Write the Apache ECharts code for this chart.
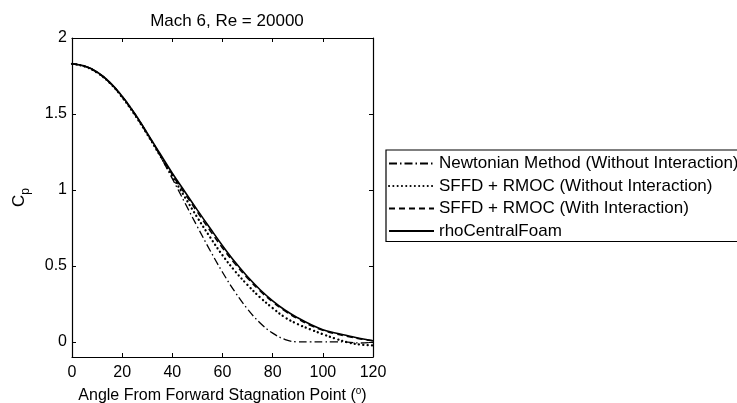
<!DOCTYPE html>
<html>
<head>
<meta charset="utf-8">
<script src="https://cdn.jsdelivr.net/npm/echarts@6/dist/echarts.min.js"></script>
<style>
  html, body { margin: 0; padding: 0; background: #fff; }
  #chart { width: 737px; height: 403px; }
</style>
</head>
<body>
<div id="chart"></div>
<script>
var angles = [0, 5, 10, 15, 20, 25, 30, 35, 40, 45, 50, 55, 60, 65, 70, 75, 80, 85, 90, 95, 100, 105, 110, 115, 120];
var newtonian = [1.83, 1.816, 1.775, 1.707, 1.616, 1.503, 1.372, 1.228, 1.074, 0.915, 0.757, 0.603, 0.458, 0.328, 0.215, 0.124, 0.057, 0.015, 0.0, 0.0, 0.0, 0.0, -0.002, -0.008, -0.004];
var sffdNoInt = [1.83, 1.813, 1.772, 1.705, 1.61, 1.495, 1.366, 1.229, 1.09, 0.952, 0.818, 0.69, 0.57, 0.465, 0.374, 0.292, 0.222, 0.16, 0.116, 0.082, 0.05, 0.021, -0.004, -0.018, -0.024];
var sffdInt = [1.83, 1.814, 1.773, 1.706, 1.612, 1.498, 1.368, 1.234, 1.1, 0.975, 0.853, 0.733, 0.618, 0.513, 0.419, 0.334, 0.262, 0.202, 0.151, 0.109, 0.076, 0.053, 0.035, 0.019, 0.006];
var rhoCentral = [1.83, 1.815, 1.776, 1.71, 1.617, 1.503, 1.374, 1.241, 1.11, 0.988, 0.867, 0.749, 0.633, 0.525, 0.428, 0.343, 0.27, 0.208, 0.158, 0.115, 0.08, 0.058, 0.04, 0.022, 0.007];
var xTicks = [0, 20, 40, 60, 80, 100, 120];
var yTicks = [0, 0.5, 1, 1.5, 2];
var names = [
  'Newtonian Method (Without Interaction)',
  'SFFD + RMOC (Without Interaction)',
  'SFFD + RMOC (With Interaction)',
  'rhoCentralFoam'
];

function pairs(ys) {
  return angles.map(function (a, i) { return [a, ys[i]]; });
}

var FONT = '"Liberation Sans", Arial, Helvetica, sans-serif';
var myChart = echarts.init(document.getElementById('chart'));

var axisLine = { show: true, onZero: false, lineStyle: { color: '#000', width: 1.2 } };
function ticks(vals) {
  return { show: true, inside: true, length: 4, customValues: vals, lineStyle: { color: '#000', width: 1 } };
}

myChart.setOption({
  animation: false,
  backgroundColor: '#fff',
  color: ['#000'],
  textStyle: { fontFamily: FONT, color: '#000' },
  title: {
    text: 'Mach 6, Re = 20000',
    left: 222, top: 8, textAlign: 'center',
    textStyle: { fontFamily: FONT, fontSize: 17, fontWeight: 'normal', color: '#000' }
  },
  grid: { left: 72, right: 364, top: 38, bottom: 46, containLabel: false, outerBoundsMode: 'none' },
  legend: {
    orient: 'vertical',
    left: 386, top: 150,
    padding: [5, 4, 2, 2],
    itemWidth: 45, itemHeight: 13, itemGap: 5.5,
    backgroundColor: '#fff',
    borderColor: '#000', borderWidth: 1.2, borderRadius: 0,
    itemStyle: { opacity: 0 },
    textStyle: { fontFamily: FONT, fontSize: 17, color: '#000' },
    data: names
  },
  xAxis: [
    {
      type: 'value', min: 0, max: 120, position: 'bottom',
      axisLine: axisLine, splitLine: { show: false },
      axisTick: ticks(xTicks),
      axisLabel: { customValues: xTicks, color: '#000', fontSize: 16, fontFamily: FONT, margin: 8 },
      name: '{a|Angle From Forward Stagnation Point (}{s|o}{a|)}',
      nameLocation: 'middle', nameGap: 27,
      nameTextStyle: {
        rich: {
          a: { fontSize: 16, fontFamily: FONT, color: '#000', lineHeight: 18, verticalAlign: 'bottom' },
          s: { fontSize: 10, fontFamily: FONT, color: '#000', lineHeight: 10, verticalAlign: 'top' }
        }
      }
    },
    {
      type: 'value', min: 0, max: 120, position: 'top',
      axisLine: axisLine, splitLine: { show: false },
      axisTick: ticks(xTicks),
      axisLabel: { show: false }
    }
  ],
  yAxis: [
    {
      type: 'value', min: -0.1, max: 2, position: 'left',
      axisLine: axisLine, splitLine: { show: false },
      axisTick: ticks(yTicks),
      axisLabel: { customValues: yTicks, color: '#000', fontSize: 16, fontFamily: FONT, margin: 5 },
      name: '{c|C}{p|p}',
      nameLocation: 'middle', nameGap: 44, nameRotate: 90,
      nameTextStyle: {
        rich: {
          c: { fontSize: 17, fontFamily: FONT, color: '#000', lineHeight: 17, verticalAlign: 'top' },
          p: { fontSize: 12, fontFamily: FONT, color: '#000', lineHeight: 12, padding: [9, 0, 0, 0], verticalAlign: 'top' }
        }
      }
    },
    {
      type: 'value', min: -0.1, max: 2, position: 'right',
      axisLine: axisLine, splitLine: { show: false },
      axisTick: ticks(yTicks),
      axisLabel: { show: false }
    }
  ],
  series: [
    {
      name: names[0], type: 'line', data: pairs(newtonian),
      showSymbol: false, symbol: 'none', smooth: 0.4,
      itemStyle: { color: '#000' },
      lineStyle: { color: '#000', width: 1.3, type: [8, 3, 1.5, 3] }, z: 3
    },
    {
      name: names[1], type: 'line', data: pairs(sffdNoInt),
      showSymbol: false, symbol: 'none', smooth: 0.4,
      itemStyle: { color: '#000' },
      lineStyle: { color: '#000', width: 2.3, type: [0.1, 4.2], cap: 'round' }, z: 3
    },
    {
      name: names[2], type: 'line', data: pairs(sffdInt),
      showSymbol: false, symbol: 'none', smooth: 0.4,
      itemStyle: { color: '#000' },
      lineStyle: { color: '#000', width: 1.5, type: [6, 4] }, z: 3
    },
    {
      name: names[3], type: 'line', data: pairs(rhoCentral),
      showSymbol: false, symbol: 'none', smooth: 0.4,
      itemStyle: { color: '#000' },
      lineStyle: { color: '#000', width: 1.6, type: 'solid' }, z: 4
    }
  ]
});
</script>
</body>
</html>
